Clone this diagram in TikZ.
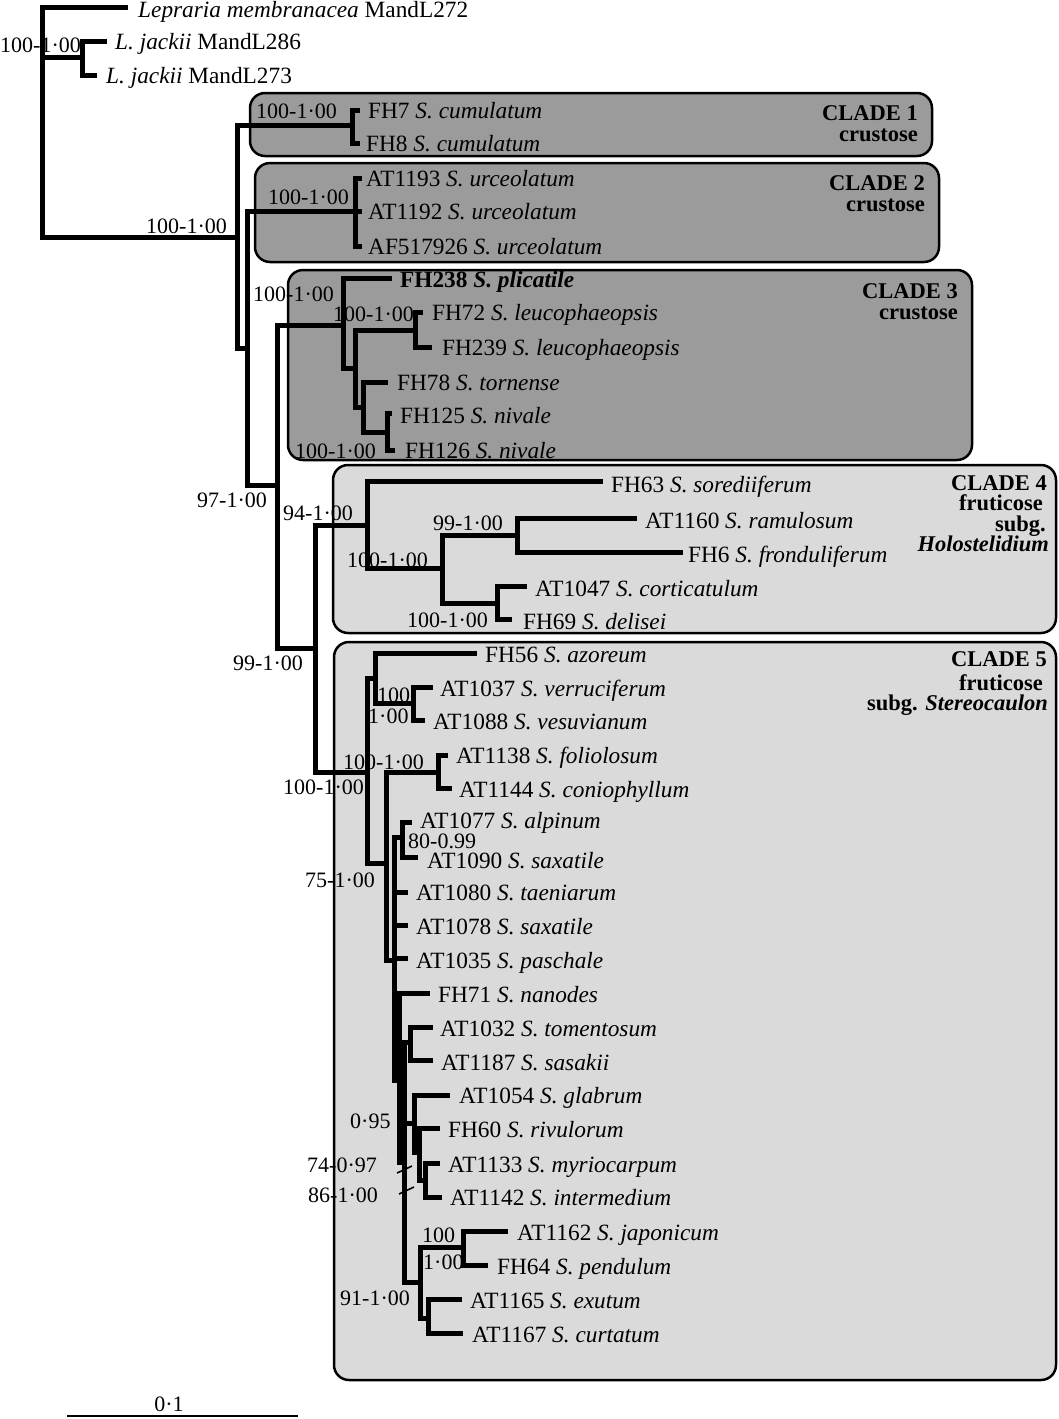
\documentclass[tikz,border=0pt]{standalone}
\usepackage{fontspec}
\setmainfont{Liberation Serif}
\definecolor{boxdark}{RGB}{155,155,155}
\definecolor{boxlight}{RGB}{218,218,218}
\begin{document}
\begin{tikzpicture}[x=1pt,y=-1pt,
  branch/.style={line width=5pt, line join=miter},
  tiplab/.style={anchor=base west, inner sep=0pt, text height=16pt, text depth=5pt, font=\fontsize{23.3}{27}\selectfont},
  suplab/.style={anchor=base west, inner sep=0pt, text height=15pt, text depth=1pt, font=\fontsize{22}{26}\selectfont},
  cladelab/.style={anchor=base east, inner sep=0pt, text height=13pt, text depth=2pt, font=\fontsize{22.5}{26}\selectfont\bfseries},
  darkbox/.style={draw=black, line width=2.5pt, fill=boxdark, rounded corners=15pt},
  lightbox/.style={draw=black, line width=2.5pt, fill=boxlight, rounded corners=15pt},
  slash/.style={line width=1.6pt}]
\useasboundingbox (0,0) rectangle (1059,1419);

% clade boxes
\draw[darkbox] (250,93) rectangle (932,156);
\draw[darkbox] (255,163) rectangle (939,262);
\draw[darkbox] (288,270) rectangle (972,460);
\draw[lightbox] (333,465) rectangle (1056,633);
\draw[lightbox] (334,642) rectangle (1056,1380);

% tree coordinates
\coordinate (root) at (42,122);
\coordinate (lep) at (128,7);
\coordinate (lj) at (82,57);
\coordinate (lj286) at (107,41);
\coordinate (lj273) at (97,75);
\coordinate (ing) at (237,237);
\coordinate (c1) at (352,125);
\coordinate (fh7) at (360,110);
\coordinate (fh8) at (360,143);
\coordinate (na) at (247,348);
\coordinate (c2) at (355,211);
\coordinate (at1193) at (362,178);
\coordinate (at1192) at (362,211);
\coordinate (af) at (362,246);
\coordinate (nb) at (277,485);
\coordinate (c3) at (343,325);
\coordinate (fh238) at (392,278);
\coordinate (c3b) at (355,368);
\coordinate (c3c) at (415,330);
\coordinate (fh72) at (423,312);
\coordinate (fh239) at (432,347);
\coordinate (c3d) at (363,407);
\coordinate (fh78) at (388,382);
\coordinate (c3e) at (387,432);
\coordinate (fh125) at (392,413);
\coordinate (fh126) at (395,450);
\coordinate (nd) at (315,648);
\coordinate (c4) at (367,525);
\coordinate (fh63) at (603,481);
\coordinate (c4h) at (442,568);
\coordinate (c4r) at (517,535);
\coordinate (at1160) at (637,518);
\coordinate (fh6) at (683,552);
\coordinate (c4k) at (497,603);
\coordinate (at1047) at (527,586);
\coordinate (fh69) at (512,619);
\coordinate (c5) at (367,772);
\coordinate (c5a) at (375,678);
\coordinate (fh56) at (477,653);
\coordinate (c5v) at (413,703);
\coordinate (at1037) at (433,687);
\coordinate (at1088) at (425,720);
\coordinate (n5a) at (386,863);
\coordinate (c5f) at (438,772);
\coordinate (at1138) at (448,755);
\coordinate (at1144) at (452,788);
\coordinate (n5b) at (394,960);
\coordinate (c5al) at (402,837);
\coordinate (at1077) at (412,822);
\coordinate (at1090) at (418,857);
\coordinate (at1080) at (408,892);
\coordinate (at1078) at (408,925);
\coordinate (at1035) at (408,958);
\coordinate (n5c) at (399,1080);
\coordinate (fh71) at (430,993);
\coordinate (n5d) at (404,1162);
\coordinate (c5t) at (410,1042);
\coordinate (at1032) at (433,1027);
\coordinate (at1187) at (433,1060);
\coordinate (g1) at (414,1123);
\coordinate (at1054) at (450,1095);
\coordinate (g2) at (419,1152);
\coordinate (fh60) at (440,1128);
\coordinate (g3) at (425,1180);
\coordinate (at1133) at (440,1163);
\coordinate (at1142) at (442,1197);
\coordinate (jn) at (420,1282);
\coordinate (jj) at (463,1247);
\coordinate (at1162) at (508,1231);
\coordinate (fh64) at (488,1265);
\coordinate (je) at (428,1318);
\coordinate (at1165) at (462,1299);
\coordinate (at1167) at (463,1333);

% branches
\foreach \p/\c in {root/lep, root/lj, root/ing, lj/lj286, lj/lj273,
  ing/c1, ing/na, c1/fh7, c1/fh8, na/c2, na/nb,
  c2/at1193, c2/at1192, c2/af, nb/c3, nb/nd,
  c3/fh238, c3/c3b, c3b/c3c, c3b/c3d, c3c/fh72, c3c/fh239,
  c3d/fh78, c3d/c3e, c3e/fh125, c3e/fh126,
  nd/c4, nd/c5, c4/fh63, c4/c4h, c4h/c4r, c4h/c4k,
  c4r/at1160, c4r/fh6, c4k/at1047, c4k/fh69,
  c5/c5a, c5/n5a, c5a/fh56, c5a/c5v, c5v/at1037, c5v/at1088,
  n5a/c5f, n5a/n5b, c5f/at1138, c5f/at1144,
  n5b/c5al, n5b/at1080, n5b/at1078, n5b/at1035, n5b/n5c,
  c5al/at1077, c5al/at1090, n5c/fh71, n5c/n5d,
  n5d/c5t, n5d/g1, n5d/jn, c5t/at1032, c5t/at1187,
  g1/at1054, g1/g2, g2/fh60, g2/g3, g3/at1133, g3/at1142,
  jn/jj, jn/je, jj/at1162, jj/fh64, je/at1165, je/at1167}
  \draw[branch] (\p) |- (\c);

% slash marks
\coordinate (s1a) at (397,1173); \coordinate (s1b) at (412,1166);
\coordinate (s2a) at (399,1194); \coordinate (s2b) at (414,1187);
\draw[slash] (s1a) -- (s1b);
\draw[slash] (s2a) -- (s2b);

% tip labels
\node[tiplab] (tlep) at (138,17) {\textit{Lepraria membranacea} MandL272};
\node[tiplab] (tlj286) at (115,49) {\textit{L. jackii} MandL286};
\node[tiplab] (tlj273) at (106,83) {\textit{L. jackii} MandL273};
\node[tiplab] (tfh7) at (368,118) {FH7 \textit{S. cumulatum}};
\node[tiplab] (tfh8) at (366,151) {FH8 \textit{S. cumulatum}};
\node[tiplab] (tat1193) at (366,186) {AT1193 \textit{S. urceolatum}};
\node[tiplab] (tat1192) at (368,219) {AT1192 \textit{S. urceolatum}};
\node[tiplab] (taf) at (368,254) {AF517926 \textit{S. urceolatum}};
\node[tiplab] (tfh238) at (400,287) {\textbf{FH238 \textit{S. plicatile}}};
\node[tiplab] (tfh72) at (432,320) {FH72 \textit{S. leucophaeopsis}};
\node[tiplab] (tfh239) at (442,355) {FH239 \textit{S. leucophaeopsis}};
\node[tiplab] (tfh78) at (397,390) {FH78 \textit{S. tornense}};
\node[tiplab] (tfh125) at (400,423) {FH125 \textit{S. nivale}};
\node[tiplab] (tfh126) at (405,458) {FH126 \textit{S. nivale}};
\node[tiplab] (tfh63) at (611,492) {FH63 \textit{S. sorediiferum}};
\node[tiplab] (tat1160) at (645,528) {AT1160 \textit{S. ramulosum}};
\node[tiplab] (tfh6) at (688,562) {FH6 \textit{S. fronduliferum}};
\node[tiplab] (tat1047) at (535,596) {AT1047 \textit{S. corticatulum}};
\node[tiplab] (tfh69) at (523,629) {FH69 \textit{S. delisei}};
\node[tiplab] (tfh56) at (485,662) {FH56 \textit{S. azoreum}};
\node[tiplab] (tat1037) at (440,696) {AT1037 \textit{S. verruciferum}};
\node[tiplab] (tat1088) at (433,729) {AT1088 \textit{S. vesuvianum}};
\node[tiplab] (tat1138) at (456,763) {AT1138 \textit{S. foliolosum}};
\node[tiplab] (tat1144) at (459,797) {AT1144 \textit{S. coniophyllum}};
\node[tiplab] (tat1077) at (420,828) {AT1077 \textit{S. alpinum}};
\node[tiplab] (tat1090) at (427,868) {AT1090 \textit{S. saxatile}};
\node[tiplab] (tat1080) at (416,900) {AT1080 \textit{S. taeniarum}};
\node[tiplab] (tat1078) at (416,934) {AT1078 \textit{S. saxatile}};
\node[tiplab] (tat1035) at (416,968) {AT1035 \textit{S. paschale}};
\node[tiplab] (tfh71) at (438,1002) {FH71 \textit{S. nanodes}};
\node[tiplab] (tat1032) at (440,1036) {AT1032 \textit{S. tomentosum}};
\node[tiplab] (tat1187) at (441,1070) {AT1187 \textit{S. sasakii}};
\node[tiplab] (tat1054) at (459,1103) {AT1054 \textit{S. glabrum}};
\node[tiplab] (tfh60) at (448,1137) {FH60 \textit{S. rivulorum}};
\node[tiplab] (tat1133) at (448,1172) {AT1133 \textit{S. myriocarpum}};
\node[tiplab] (tat1142) at (450,1205) {AT1142 \textit{S. intermedium}};
\node[tiplab] (tat1162) at (517,1240) {AT1162 \textit{S. japonicum}};
\node[tiplab] (tfh64) at (497,1274) {FH64 \textit{S. pendulum}};
\node[tiplab] (tat1165) at (470,1308) {AT1165 \textit{S. exutum}};
\node[tiplab] (tat1167) at (472,1342) {AT1167 \textit{S. curtatum}};

% support values
\node[suplab] (s01) at (0,52) {100-1·00};
\node[suplab] (s02) at (256,118) {100-1·00};
\node[suplab] (s03) at (146,233) {100-1·00};
\node[suplab] (s04) at (268,204) {100-1·00};
\node[suplab] (s05) at (253,301) {100-1·00};
\node[suplab] (s06) at (333,321) {100-1·00};
\node[suplab] (s07) at (295,458) {100-1·00};
\node[suplab] (s08) at (197,507) {97-1·00};
\node[suplab] (s09) at (283,520) {94-1·00};
\node[suplab] (s10) at (433,530) {99-1·00};
\node[suplab] (s11) at (347,567) {100-1·00};
\node[suplab] (s12) at (407,627) {100-1·00};
\node[suplab] (s13) at (233,670) {99-1·00};
\node[suplab] (s14) at (377,702) {100};
\node[suplab] (s15) at (368,723) {1·00};
\node[suplab] (s16) at (343,769) {100-1·00};
\node[suplab] (s17) at (283,794) {100-1·00};
\node[suplab] (s18) at (408,848) {80-0.99};
\node[suplab] (s19) at (305,887) {75-1·00};
\node[suplab] (s20) at (350,1128) {0·95};
\node[suplab] (s21) at (307,1172) {74-0·97};
\node[suplab] (s22) at (308,1202) {86-1·00};
\node[suplab] (s23) at (422,1242) {100};
\node[suplab] (s24) at (423,1269) {1·00};
\node[suplab] (s25) at (340,1305) {91-1·00};

% clade labels
\node[cladelab] (k1a) at (918,120) {CLADE 1};
\node[cladelab] (k1b) at (918,141) {crustose};
\node[cladelab] (k2a) at (925,190) {CLADE 2};
\node[cladelab] (k2b) at (925,211) {crustose};
\node[cladelab] (k3a) at (958,298) {CLADE 3};
\node[cladelab] (k3b) at (958,319) {crustose};
\node[cladelab] (k4a) at (1047,490) {CLADE 4};
\node[cladelab] (k4b) at (1043,510) {fruticose};
\node[cladelab] (k4c) at (1046,531) {subg.};
\node[cladelab] (k4d) at (1049,551) {\textit{Holostelidium}};
\node[cladelab] (k5a) at (1047,666) {CLADE 5};
\node[cladelab] (k5b) at (1043,690) {fruticose};
\node[cladelab] (k5c) at (1048,710) {subg. \textit{Stereocaulon}};

% scale bar
\coordinate (sbl) at (67,1416);
\coordinate (sbr) at (298,1416);
\draw[line width=2.5pt] (sbl) -- (sbr);
\node[anchor=base, inner sep=0pt, font=\fontsize{22}{26}\selectfont] (sbt) at (169,1411) {0·1};
\end{tikzpicture}
\end{document}
